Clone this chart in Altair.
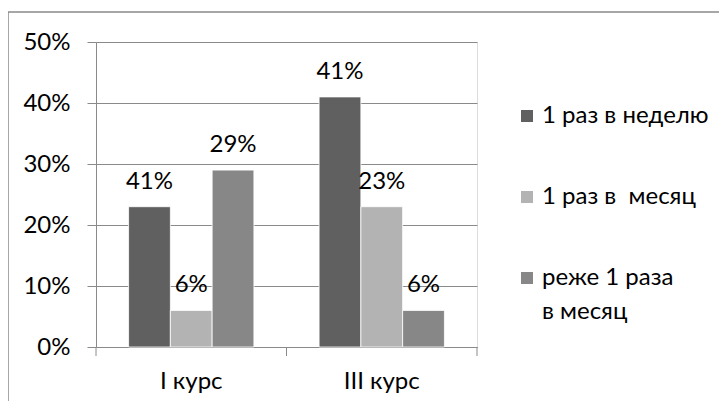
import altair as alt
import pandas as pd

courses = ["I курс", "III курс"]
series = ["1 раз в неделю", "1 раз в\u00a0 месяц", "реже 1 раза в месяц"]
legend_text = ["1 раз в неделю", "1 раз в\u00a0 месяц", "реже 1 раза\nв месяц"]
legend_index = [0, 1, 2]
values_I = [23, 6, 29]
values_III = [41, 23, 6]
labels_I = ["41%", "6%", "29%"]
labels_III = ["41%", "23%", "6%"]
y_ticks = [0, 10, 20, 30, 40, 50]
colors = ["#606060", "#b3b3b3", "#878787"]

rows = []
for c, vals, labs in [(courses[0], values_I, labels_I), (courses[1], values_III, labels_III)]:
    for s, v, l in zip(series, vals, labs):
        rows.append({"course": c, "series": s, "value": v, "label": l})
df = pd.DataFrame(rows)
leg_df = pd.DataFrame({"series": series, "text": legend_text, "idx": legend_index})

W, H = 381, 305
FONT = "Lato"
FS = 24
GRAY = "#8a8a8a"

color = alt.Color("series:N", sort=series,
                  scale=alt.Scale(domain=series, range=colors), legend=None)

x = alt.X(
    "course:N", sort=courses,
    scale=alt.Scale(paddingInner=0, paddingOuter=0),
    axis=alt.Axis(title=None, labelFontSize=FS, labelFont=FONT, labelColor="black",
                  ticks=False, tickSize=0, domainColor=GRAY, labelPadding=22, labelAngle=0),
)
xo = alt.XOffset("series:N", sort=series, scale=alt.Scale(paddingOuter=0.78, paddingInner=0))
y = alt.Y(
    "value:Q", scale=alt.Scale(domain=[0, 50], nice=False),
    axis=alt.Axis(values=y_ticks, labelExpr="datum.value + '%'", title=None, grid=True,
                  gridColor=GRAY, tickColor=GRAY, tickSize=9, domainColor=GRAY,
                  labelFontSize=FS, labelFont=FONT, labelColor="black", labelPadding=17),
)

border = alt.Chart(pd.DataFrame({"a": [0]})).mark_rect(
    fillOpacity=0, stroke=GRAY, strokeWidth=1.5
).encode(x=alt.value(-88), x2=alt.value(W + 400), y=alt.value(-30), y2=alt.value(H + 200))

bars = alt.Chart(df).mark_bar(stroke="white", strokeWidth=1, strokeOpacity=0.8).encode(
    x=x, xOffset=xo, y=y, color=color,
)

text = alt.Chart(df).mark_text(
    fontSize=FS, font=FONT, color="black", dy=-25, baseline="middle"
).encode(
    x=alt.X("course:N", sort=courses), xOffset=alt.XOffset("series:N", sort=series),
    y=alt.Y("value:Q"), text="label:N",
)

ticks_df = pd.DataFrame({"course": courses})
tick_rules = alt.Chart(ticks_df).mark_rule(color=GRAY).encode(
    x=alt.X("course:N", sort=courses, bandPosition=0), y=alt.value(H), y2=alt.value(H + 9)
)
end_rule = alt.Chart(pd.DataFrame({"course": [courses[-1]]})).mark_rule(color=GRAY).encode(
    x=alt.X("course:N", sort=courses, bandPosition=1), y=alt.value(H), y2=alt.value(H + 9)
)

main = alt.layer(bars, text, tick_rules, end_rule)

leg_y = alt.Y("idx:Q", scale=alt.Scale(domain=[0, 2], range=[74, 236], nice=False, zero=False),
              axis=None)
leg_sym = alt.Chart(leg_df).mark_square(size=144, opacity=1, strokeWidth=0).encode(
    x=alt.value(431), y=leg_y, color=color,
)
leg_txt = alt.Chart(leg_df).mark_text(
    fontSize=FS, font=FONT, color="black", align="left", baseline="middle",
    lineBreak="\n", lineHeight=34,
).encode(x=alt.value(446), y=leg_y, text="text:N")
legend = alt.layer(leg_sym, leg_txt)

chart = alt.layer(border, main, legend).resolve_scale(
    y="independent"
).properties(
    width=W, height=H,
    autosize=alt.AutoSizeParams(type="none"),
    padding={"left": 88, "top": 34, "right": 242, "bottom": 54},
).configure_view(strokeWidth=0).configure(font=FONT)

chart.save("out.html", embed_options={"renderer": "svg", "actions": False})
